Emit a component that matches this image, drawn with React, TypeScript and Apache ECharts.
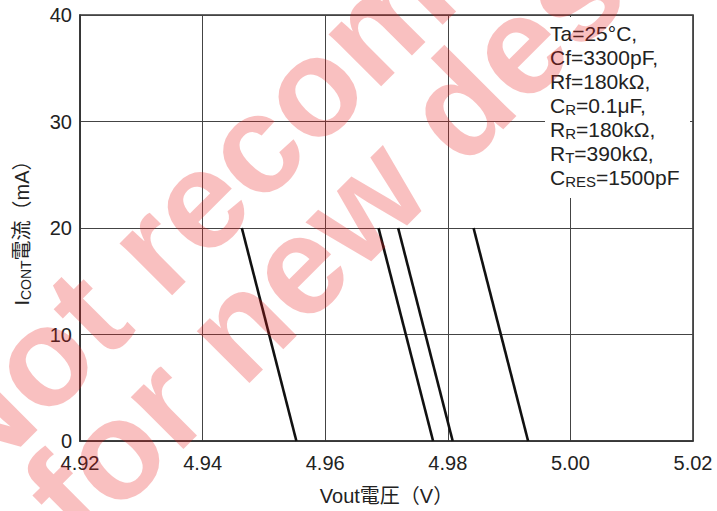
import React, { useEffect, useRef } from "react";
import * as echarts from "echarts";

// Vout (V) at ICONT = 20 mA (top end) and ICONT = 0 mA (bottom end) for each curve
const currentLevels = [20, 0];
const curveVoutAt20mA = [4.9464, 4.9687, 4.9719, 4.9842];
const curveVoutAt0mA = [4.9553, 4.9776, 4.9808, 4.9931];

const xMin = 4.92;
const xMax = 5.02;
const xStep = 0.02;
const yMin = 0;
const yMax = 40;
const yStep = 10;

const conditionLines = [
  "Ta=25°C,",
  "Cf=3300pF,",
  "Rf=180kΩ,",
  "C{s|R}=0.1μF,",
  "R{s|R}=180kΩ,",
  "R{s|T}=390kΩ,",
  "C{s|RES}=1500pF",
];

const watermarkLines = ["Not recommended", "for new design"];

const FONT = "'Liberation Sans', Arial, 'Noto Sans CJK JP', sans-serif";

export default function App() {
  const ref = useRef<HTMLDivElement>(null);

  useEffect(() => {
    if (!ref.current) return;
    const chart = echarts.init(ref.current, undefined, { renderer: "svg" });

    const series = curveVoutAt20mA.map((xTop, i) => ({
      type: "line",
      name: "curve" + (i + 1),
      data: [
        [xTop, currentLevels[0]],
        [curveVoutAt0mA[i], currentLevels[1]],
      ],
      showSymbol: false,
      symbol: "none",
      lineStyle: { color: "#111", width: 2.6 },
      z: 3,
    }));

    const wmStyle = {
      fill: "rgba(235,30,30,0.28)",
      font: "bold 140px " + FONT,
      textAlign: "center",
      textVerticalAlign: "middle",
    };

    chart.setOption({
      animation: false,
      backgroundColor: "#fff",
      grid: {
        left: 80,
        right: 24,
        top: 15,
        bottom: 68,
        show: true,
        borderColor: "#333",
        borderWidth: 1.6,
        backgroundColor: "transparent",
      },
      xAxis: {
        type: "value",
        min: xMin,
        max: xMax,
        interval: xStep,
        name: "Vout電圧（V）",
        nameLocation: "middle",
        nameGap: 45,
        nameTextStyle: { fontFamily: FONT, fontSize: 20, color: "#222" },
        axisLine: { show: true, onZero: false, lineStyle: { color: "#333", width: 1.6 } },
        axisTick: { show: false },
        axisLabel: {
          margin: 12,
          fontFamily: FONT,
          fontSize: 20,
          color: "#222",
          formatter: (v: number) => v.toFixed(2),
        },
        splitLine: { show: true, lineStyle: { color: "#444", width: 1 } },
      },
      yAxis: {
        type: "value",
        min: yMin,
        max: yMax,
        interval: yStep,
        name: "I{sub|CONT}電流（mA）",
        nameLocation: "middle",
        nameRotate: 90,
        nameGap: 47,
        nameTextStyle: {
          fontFamily: FONT,
          fontSize: 20,
          color: "#222",
          rich: {
            sub: { fontFamily: FONT, fontSize: 14, color: "#222", verticalAlign: "bottom", padding: [8, 0, 0, 0] },
          },
        },
        axisLine: { show: true, lineStyle: { color: "#333", width: 1.6 } },
        axisTick: { show: false },
        axisLabel: { margin: 8, fontFamily: FONT, fontSize: 20, color: "#222" },
        splitLine: { show: true, lineStyle: { color: "#444", width: 1 } },
      },
      series,
      graphic: [
        {
          type: "rect",
          shape: { x: 545, y: 17, width: 145, height: 181 },
          style: { fill: "#fff" },
          z: 10,
        },
        {
          type: "text",
          x: 550,
          y: 21,
          z: 11,
          style: {
            text: conditionLines.join("\n"),
            font: "21px " + FONT,
            fill: "#222",
            lineHeight: 24,
            rich: {
              s: { fontSize: 15, fontFamily: FONT, fill: "#222", lineHeight: 24, verticalAlign: "bottom" },
            },
          },
        },
        {
          type: "text",
          x: 373,
          y: 26,
          rotation: Math.PI / 4,
          z: 100,
          silent: true,
          style: { ...wmStyle, text: watermarkLines[0] },
        },
        {
          type: "text",
          x: 398,
          y: 166,
          rotation: Math.PI / 4,
          z: 100,
          silent: true,
          style: { ...wmStyle, text: watermarkLines[1] },
        },
      ],
    });

    return () => chart.dispose();
  }, []);

  return (
    <div
      ref={ref}
      style={{ position: "fixed", left: 0, top: 0, width: 717, height: 511 }}
    />
  );
}
